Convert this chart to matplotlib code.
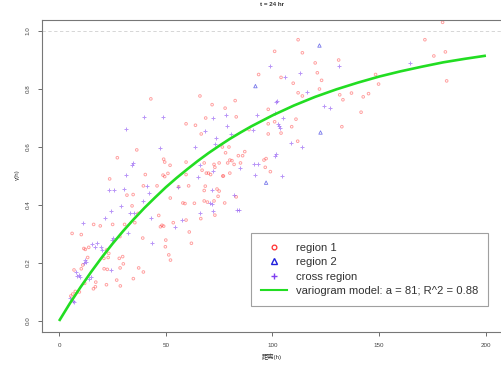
import matplotlib
matplotlib.use("Agg")
import matplotlib.pyplot as plt
from matplotlib.lines import Line2D

# ---- data ----
r1_x = [112, 101, 114, 120, 131, 93.5, 104, 121, 109.7, 123, 122, 112, 114, 131.5, 133, 137,
        82.5, 71.7, 77.8, 98, 66, 68.7, 83, 111, 98, 101, 109, 104, 132.5, 89, 98, 66.6, 111.8,
        76.5, 79.6, 78, 80, 84, 86, 81, 85, 79, 82, 87, 96, 97, 96.6, 99, 68, 72.6, 73, 70, 71,
        75, 76.7, 67, 69, 77, 80, 68.5, 68, 75, 74, 74.5, 83, 68, 69.5, 72.6, 77.6, 73, 66.4,
        179.7, 171.4, 175.6, 181, 181.6, 148.3, 149.7, 142.5, 145, 141.5,
        43, 59.5, 63.9, 36.4, 27.3, 49, 49.5, 52, 59.5, 40.4, 48.7, 49.5, 51, 59.5, 23.7,
        39.5, 45.9, 31.8, 34.7, 52.1, 56, 60.7, 58, 59, 63.4, 34.2, 37, 46.7, 35.5, 48.2, 49,
        47.5, 59.5, 61, 53.5, 16.2, 19.3, 25.1, 30.7, 6.1, 10.4, 28.5, 39.2, 50, 49.8, 51.4,
        52.2, 62, 11.6, 12.3, 13.9, 22.3, 23.3, 21, 23, 13.4, 11.1, 28.2, 29.8, 30.1, 28.6,
        21.1, 22.6, 37.3, 39.5, 34.8, 27, 28.7, 22.2, 17.2, 17, 16.1, 7, 10.4, 12, 7.6, 6.4,
        9.5, 5.5]
r1_y = [0.97, 0.93, 0.925, 0.89, 0.90, 0.85, 0.84, 0.856, 0.82, 0.83, 0.80, 0.787, 0.776, 0.78,
        0.763, 0.786, 0.76, 0.746, 0.734, 0.73, 0.776, 0.70, 0.704, 0.696, 0.68, 0.687, 0.67,
        0.648, 0.67, 0.66, 0.645, 0.645, 0.62, 0.60, 0.60, 0.58, 0.555, 0.57, 0.57, 0.553, 0.545,
        0.545, 0.54, 0.584, 0.555, 0.56, 0.53, 0.515, 0.545, 0.54, 0.53, 0.51, 0.505, 0.545, 0.50,
        0.52, 0.51, 0.50, 0.51, 0.465, 0.45, 0.448, 0.455, 0.43, 0.428, 0.414, 0.41, 0.414, 0.407,
        0.365, 0.353,
        1.03, 0.97, 0.914, 0.928, 0.828, 0.85, 0.817, 0.773, 0.784, 0.72,
        0.766, 0.68, 0.675, 0.59, 0.563, 0.558, 0.548, 0.537, 0.548, 0.505, 0.503, 0.498, 0.509,
        0.505, 0.49,
        0.466, 0.466, 0.434, 0.436, 0.424, 0.463, 0.466, 0.407, 0.405, 0.406, 0.397, 0.371, 0.364,
        0.339, 0.33, 0.327, 0.325, 0.348, 0.307, 0.339, 0.333, 0.328, 0.333, 0.333, 0.302, 0.298,
        0.291, 0.286, 0.279, 0.256, 0.228, 0.21, 0.268, 0.25, 0.247, 0.254, 0.245, 0.233, 0.216,
        0.219, 0.219, 0.193, 0.216, 0.222, 0.197, 0.183, 0.18, 0.178, 0.183, 0.169, 0.146, 0.141,
        0.121, 0.125, 0.134, 0.118, 0.111, 0.176, 0.18, 0.13, 0.102, 0.093, 0.1, 0.086]

r2_x = [92, 97, 122, 122.5]
r2_y = [0.81, 0.477, 0.95, 0.65]

cr_x = [98.7, 131, 106, 113, 116, 102, 101.5, 124, 127, 72, 78, 92.6, 101, 105, 103, 103.5, 102.5,
        68.4, 78.5, 90.7, 80.4, 73.5, 108.7, 114, 73, 91.5, 93, 101, 101.5, 85, 104.4, 72, 92,
        71.6, 82, 70.7, 71.5, 83.4, 84.3, 72, 66, 164.4,
        39.8, 48.9, 31.2, 47.2, 63.9, 34.8, 34.3, 66, 31.2,
        65.1, 25.6, 23.3, 30.3, 41.2, 42.3, 55.5, 39.2, 29, 24.2, 33, 35, 43.2, 54.2, 57.6, 11.4,
        21.7, 25.4, 25, 32.2, 43.6, 15.5, 17, 18, 19.5, 20.1, 12.3, 11.7, 12.8, 24.5, 15, 13.9,
        8.6, 9.3, 9.8, 8, 5.2, 6.4, 7]
cr_y = [0.88, 0.88, 0.84, 0.856, 0.79, 0.76, 0.755, 0.74, 0.734, 0.70, 0.71, 0.71, 0.718, 0.70,
        0.672, 0.665, 0.678, 0.656, 0.672, 0.66, 0.646, 0.63, 0.615, 0.60, 0.61, 0.54, 0.54,
        0.57, 0.575, 0.527, 0.50, 0.517, 0.503, 0.45, 0.434, 0.407, 0.404, 0.383, 0.383, 0.38,
        0.372, 0.889,
        0.705, 0.703, 0.663, 0.598, 0.60, 0.546, 0.537, 0.537, 0.505,
        0.495, 0.45, 0.452, 0.456, 0.466, 0.443, 0.463, 0.415, 0.397, 0.378, 0.373, 0.373, 0.354,
        0.323, 0.348, 0.337, 0.354, 0.286, 0.28, 0.305, 0.27, 0.265, 0.256, 0.268, 0.254, 0.245,
        0.21, 0.199, 0.205, 0.176, 0.15, 0.146, 0.155, 0.158, 0.152, 0.169, 0.079, 0.07, 0.066]

model_h = [0, 5, 10, 15, 20, 25, 30, 35, 40, 45, 50, 55, 60, 65, 70, 75, 80, 85, 90, 95, 100,
           110, 120, 130, 140, 150, 160, 170, 180, 190, 200]
model_g = [0.0, 0.06, 0.116, 0.169, 0.219, 0.266, 0.31, 0.351, 0.39, 0.426, 0.461, 0.493, 0.523,
           0.552, 0.579, 0.604, 0.628, 0.65, 0.671, 0.69, 0.709, 0.743, 0.773, 0.799, 0.822,
           0.843, 0.861, 0.877, 0.892, 0.904, 0.915]

x_ticks = [0, 50, 100, 150, 200]
y_ticks = [0.0, 0.2, 0.4, 0.6, 0.8, 1.0]
y_tick_labels = ["0.0", "0.2", "0.4", "0.6", "0.8", "1.0"]
legend_labels = ["region 1", "region 2", "cross region",
                 "variogram model: a = 81; R^2 = 0.88"]

# ---- figure ----
plt.rcParams['font.family'] = ['Liberation Sans', 'Noto Sans CJK SC', 'DejaVu Sans']
W, H = 502, 369
fig = plt.figure(figsize=(W / 100, H / 100), dpi=100)
ax = fig.add_axes([42 / W, 37 / H, 461 / W, 312 / H])

red = '#ff3030'
blue = '#2020dd'
purple = '#8040f0'
green = '#22dd22'

ax.axhline(1.0, color='#d0d0d0', lw=0.6, ls=(0, (4, 3)), zorder=1)
ax.scatter(r1_x, r1_y, s=3.5, marker='o', facecolors='none', edgecolors=red,
           linewidths=0.7, alpha=0.45, zorder=2)
ax.scatter(r2_x, r2_y, s=6, marker='^', facecolors='none', edgecolors=blue,
           linewidths=0.6, alpha=0.6, zorder=2)
ax.scatter(cr_x, cr_y, s=6, marker='+', color=purple, linewidths=0.7, alpha=0.55, zorder=2)
ax.plot(model_h, model_g, color=green, lw=1.9, zorder=3, solid_capstyle='butt',
        solid_joinstyle='round')

ax.set_xlim(-8, 208)
ax.set_ylim(-0.038, 1.038)
ax.set_xticks(x_ticks)
ax.set_xticklabels([str(v) for v in x_ticks])
ax.set_yticks(y_ticks)
ax.set_yticklabels(y_tick_labels, rotation=90, va='center')
ax.tick_params(axis='both', labelsize=4.5, length=3, width=0.6, colors='#555555',
               labelcolor='#444444', pad=5)
for sp in ax.spines.values():
    sp.set_color('#777777')
    sp.set_linewidth(0.8)

handles = [
    Line2D([], [], ls='none', marker='o', markersize=3.4, markerfacecolor='none',
           markeredgecolor=red, markeredgewidth=0.9),
    Line2D([], [], ls='none', marker='^', markersize=4.2, markerfacecolor='none',
           markeredgecolor=blue, markeredgewidth=1.0),
    Line2D([], [], ls='none', marker='+', markersize=5, color=purple, markeredgewidth=1.0),
    Line2D([], [], color=green, lw=1.5),
]
leg = ax.legend(handles, legend_labels, loc='lower left', bbox_to_anchor=(0.453, 0.083),
                fontsize=8.1, frameon=True, fancybox=False, edgecolor='#888888',
                handlelength=2.3, handletextpad=0.8, labelspacing=0.38, borderpad=0.9,
                borderaxespad=0)
leg.get_frame().set_linewidth(0.8)
for t in leg.get_texts():
    t.set_color('#333333')

fig.text(272 / W, 1 - 5 / H, "t = 24 hr", ha='center', va='center', fontsize=4.5,
         fontweight='bold', color='#333333')
fig.text(272 / W, 1 - 357 / H, "距离(h)", ha='center', va='center', fontsize=4.5,
         color='#333333')
fig.text(17 / W, 1 - 175 / H, "γ(h)", ha='center', va='center', fontsize=4.5,
         rotation=90, color='#333333')

fig.savefig("out.png", dpi=100)
